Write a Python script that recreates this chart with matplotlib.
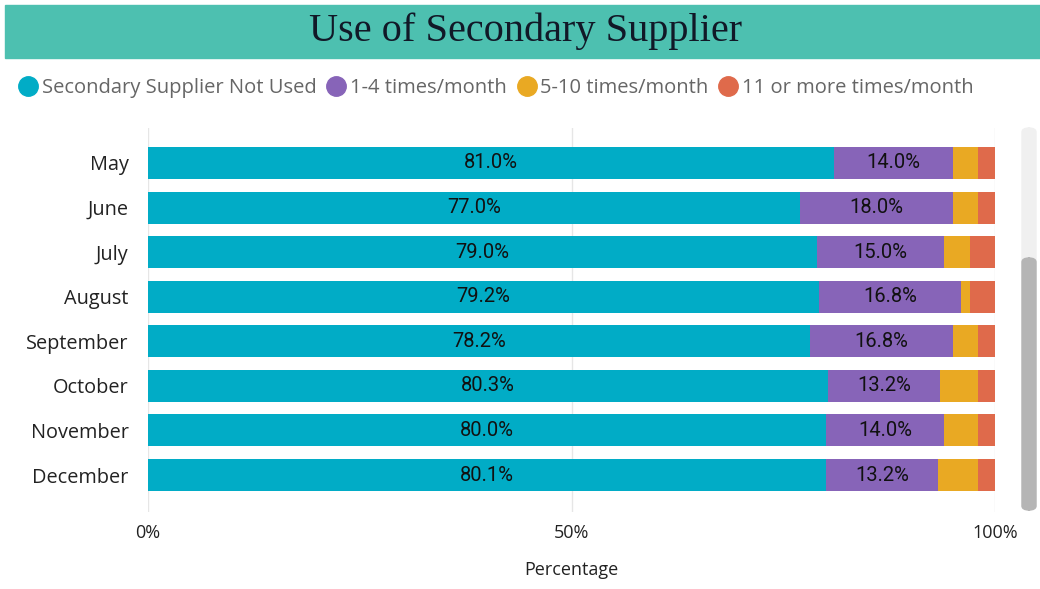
import matplotlib
matplotlib.use("Agg")
import matplotlib.pyplot as plt
from matplotlib.patches import Rectangle, FancyBboxPatch
from matplotlib.lines import Line2D
import numpy as np

months = ["May", "June", "July", "August", "September", "October", "November", "December"]
not_used = [81.0, 77.0, 79.0, 79.2, 78.2, 80.3, 80.0, 80.1]
times_1_4 = [14.0, 18.0, 15.0, 16.8, 16.8, 13.2, 14.0, 13.2]
times_5_10 = [3.0, 3.0, 3.0, 1.0, 3.0, 4.5, 4.0, 4.7]
times_11_plus = [2.0, 2.0, 3.0, 3.0, 2.0, 2.0, 2.0, 2.0]

series_names = ["Secondary Supplier Not Used", "1-4 times/month", "5-10 times/month", "11 or more times/month"]
colors = ["#01ACC6", "#8764B8", "#E9A923", "#DF6A4B"]
labelled = [True, True, False, False]

fig = plt.figure(figsize=(10.4, 5.89), dpi=100)
W, H = 1040, 589

# title band
fig.patches.append(Rectangle((5 / W, 1 - 58 / H), 1 - 5 / W, 53 / H,
                             transform=fig.transFigure, color="#4DC0B0", zorder=0))
fig.text(526 / W, 1 - 31 / H, "Use of Secondary Supplier", ha="center", va="center",
         family="Liberation Serif", fontsize=29, color="#111827")

ax = fig.add_axes([148 / W, 1 - 512 / H, 847 / W, 384 / H])
y = np.arange(len(months))
left = np.zeros(len(months))
all_series = [not_used, times_1_4, times_5_10, times_11_plus]
for vals, name, col, lab in zip(all_series, series_names, colors, labelled):
    vals = np.array(vals)
    ax.barh(y, vals, left=left, height=0.72, color=col, label=name, zorder=2)
    if lab:
        for yi, l, v in zip(y, left, vals):
            ax.text(l + v / 2, yi, f"{v:.1f}%", ha="center", va="center",
                    fontsize=14.5, color="#111111", family="Roboto", zorder=3)
    left += vals

ax.set_xlim(0, 100)
ax.set_ylim(7.83, -0.785)
ax.set_yticks(y)
ax.set_yticklabels(months, fontsize=14.3, color="#222222", family="Open Sans")
ax.set_xticks([0, 50, 100])
ax.set_xticklabels(["0%", "50%", "100%"], fontsize=13, color="#222222", family="Open Sans")
ax.tick_params(length=0, axis="both")
ax.tick_params(axis="x", pad=9)
ax.tick_params(axis="y", pad=14)
ax.set_xlabel("Percentage", fontsize=13, color="#222222", family="Open Sans", labelpad=13)
ax.grid(axis="x", color="#E6E6E6", linewidth=1, zorder=0)
for s in ax.spines.values():
    s.set_visible(False)

# legend
handles = [Line2D([], [], marker="o", linestyle="", markersize=14, color=c) for c in colors]
fig.legend(handles, series_names, loc="center left", bbox_to_anchor=(-2 / W, 1 - 88 / H),
           ncol=4, frameon=False, handletextpad=0.06, columnspacing=0.4, handlelength=1.2,
           prop={"family": "Open Sans", "size": 14.5}, labelcolor="#666666")

# scrollbar
fig.patches.append(FancyBboxPatch((1022 / W, 1 - 510 / H), 14 / W, 382 / H,
                                  boxstyle="round,pad=0,rounding_size=0.007",
                                  transform=fig.transFigure, color="#F0F0F0", zorder=0))
fig.patches.append(FancyBboxPatch((1022 / W, 1 - 510 / H), 14 / W, 252 / H,
                                  boxstyle="round,pad=0,rounding_size=0.007",
                                  transform=fig.transFigure, color="#B5B5B5", zorder=1))

fig.savefig("out.png", dpi=100)
